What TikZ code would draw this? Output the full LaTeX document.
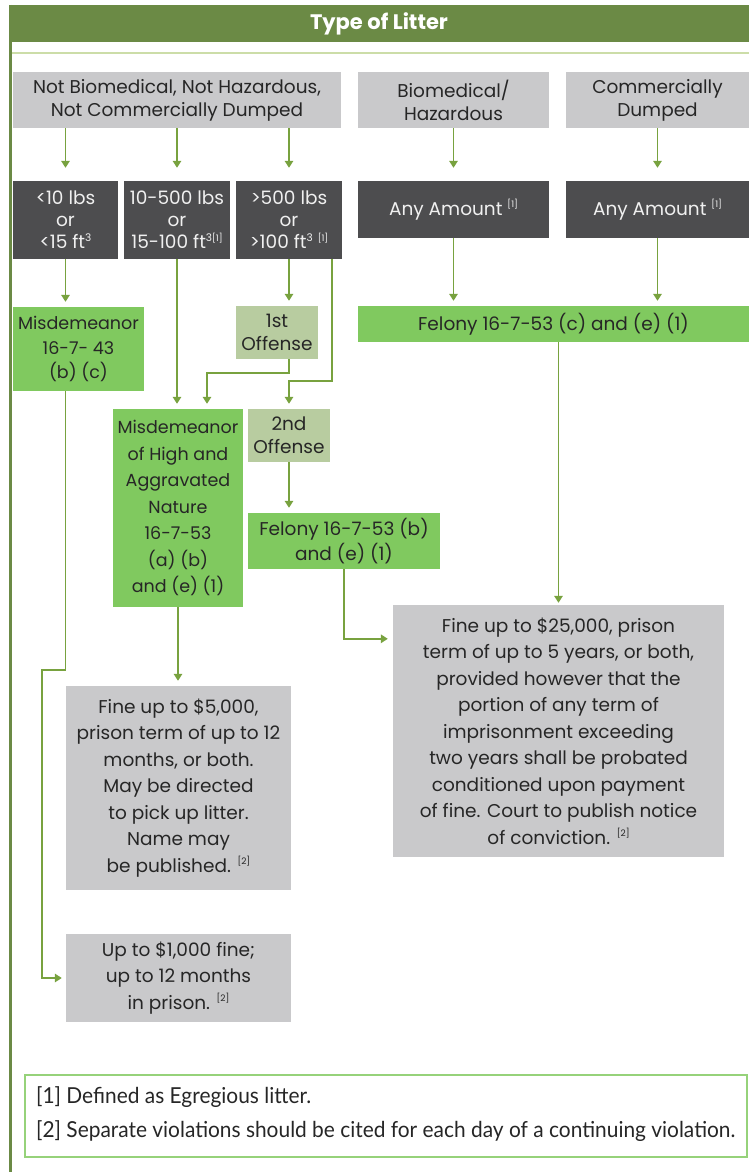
\documentclass[tikz,border=0pt]{standalone}
\usepackage{fontspec}
\setmainfont{Poppins}
\newfontfamily\notefont[FakeStretch=0.95]{Lato}
\usetikzlibrary{positioning}
\usetikzlibrary{arrows.meta}

\definecolor{hdrgreen}{HTML}{6B8A45}
\definecolor{paleline}{HTML}{CCDDA8}
\definecolor{stem}{HTML}{78A23F}
\definecolor{boxgray}{HTML}{C9C9CB}
\definecolor{slate}{HTML}{4D4D4F}
\definecolor{lawn}{HTML}{80C95F}
\definecolor{sage}{HTML}{B8CCA0}
\definecolor{noteline}{HTML}{96D27A}

\tikzset{
  box/.style={inner sep=0pt, align=center, text=black!85, font=\fontsize{18.5}{26.5}\selectfont},
  graybox/.style={box, fill=boxgray},
  darkbox/.style={box, fill=slate, text=white!94!black, font=\fontsize{18.5}{22}\selectfont},
  greenbox/.style={box, fill=lawn},
  offensebox/.style={box, fill=sage, font=\fontsize{18.5}{23}\selectfont},
  arr/.style={draw=stem, line width=1.6pt, -{Triangle[length=7pt, width=8.5pt]}, shorten >=5pt}
}
\newcommand{\fnref}[1]{\raisebox{0.75ex}{\fontsize{9}{9}\selectfont[#1]}}
\newcommand{\cube}{\raisebox{0.7ex}{\fontsize{10.5}{10.5}\selectfont 3}}

\begin{document}
\begin{tikzpicture}[x=1pt, y=-1pt]
\useasboundingbox (0,0) rectangle (749,1172);
%\draw[help lines, step=50] (0,0) grid (749,1172);

\node [fill=hdrgreen, text=white, inner sep=0pt, minimum width=740pt, minimum height=37pt,
  font=\bfseries\fontsize{21}{21}\selectfont] (title) at (379,23.5) {Type of Litter};
\draw [hdrgreen, line width=3pt] ([xshift=1.5pt]title.north west) -- ++(0,1167);
\draw [paleline, line width=2pt] (12,53) -- (749,53);

% kinds of litter
\node [graybox, minimum width=328pt, minimum height=56pt, font=\fontsize{18.5}{23}\selectfont] (kindA) at (177,100)
  {Not Biomedical, Not Hazardous,\\Not Commercially Dumped};
\node [graybox, minimum width=191pt, minimum height=56pt, font=\fontsize{18.5}{23}\selectfont] (kindB) at (453.5,100) {Biomedical/\\Hazardous};
\node [graybox, minimum width=183pt, minimum height=56pt, font=\fontsize{18.5}{23}\selectfont] (kindC) at (657.5,100) {Commercially\\Dumped};

% amounts
\node [darkbox, minimum width=105pt, minimum height=78pt] (amt1) at (65.5,220) {<10 lbs\\or\\<15 ft\cube};
\node [darkbox, minimum width=106pt, minimum height=78pt] (amt2) at (177,220) {10-500 lbs\\or\\15-100 ft\cube\fnref{1}};
\node [darkbox, minimum width=106pt, minimum height=78pt] (amt3) at (289,220) {>500 lbs\\or\\>100 ft\cube\ \fnref{1}};
\node [darkbox, minimum width=191pt, minimum height=57pt] (amt4) at (453.5,209.5) {Any Amount \fnref{1}};
\node [darkbox, minimum width=183pt, minimum height=57pt] (amt5) at (657.5,209.5) {Any Amount \fnref{1}};

% offenses and charges
\node [greenbox, minimum width=131pt, minimum height=84pt, font=\fontsize{17.5}{24.5}\selectfont] (misd) at (78.5,349)
  {Misdemeanor\\16-7- 43\\(b) (c)};
\node [offensebox, minimum width=82pt, minimum height=53pt] (first) at (277,332.5) {1st\\Offense};
\node [greenbox, minimum width=391pt, minimum height=36pt] (felc) at (553.5,324) {Felony 16-7-53 (c) and (e) (1)};
\node [greenbox, minimum width=130pt, minimum height=198pt, font=\fontsize{17.5}{26.5}\selectfont] (high) at (178,508)
  {Misdemeanor\\of High and\\Aggravated\\Nature\\16-7-53\\(a) (b)\\and (e) (1)};
\node [offensebox, minimum width=82pt, minimum height=53pt] (second) at (289,435.5) {2nd\\Offense};
\node [greenbox, minimum width=192pt, minimum height=56pt, font=\fontsize{18.5}{25}\selectfont] (felb) at (344,541)
  {Felony 16-7-53 (b)\\and (e) (1)};

% penalties
\node [graybox, minimum width=331pt, minimum height=252pt] (felfine) at (558.5,731)
  {Fine up to \$25,000, prison\\term of up to 5 years, or both,\\provided however that the\\portion of any term of\\imprisonment exceeding\\two years shall be probated\\conditioned upon payment\\of fine. Court to publish notice\\of conviction. \fnref{2}};
\node [graybox, minimum width=225pt, minimum height=204pt] (highfine) at (178.5,788)
  {Fine up to \$5,000,\\prison term of up to 12\\months, or both.\\May be directed\\to pick up litter.\\Name may\\be published. \fnref{2}};
\node [graybox, minimum width=225pt, minimum height=88pt] (misdfine) at (178.5,978)
  {Up to \$1,000 fine;\\up to 12 months\\in prison. \fnref{2}};

% footnotes
\node [draw=noteline, line width=2pt, inner sep=0pt, minimum width=722pt, minimum height=82pt] (notes) at (386,1116) {};
\node [anchor=west, inner sep=0pt, text=black!85, font=\notefont\fontsize{22}{22}\selectfont] (note1) at (36,1097)
  {[1] Defined as Egregious litter.};
\node [anchor=west, inner sep=0pt, text=black!85, font=\notefont\fontsize{22}{22}\selectfont] (note2) at (36,1131)
  {[2] Separate violations should be cited for each day of a continuing violation.};

% connectors
\draw [arr, shorten >=13pt] (amt1.north |- kindA.south) -- (amt1.north);
\draw [arr, shorten >=13pt] (amt2.north |- kindA.south) -- (amt2.north);
\draw [arr, shorten >=13pt] (amt3.north |- kindA.south) -- (amt3.north);
\draw [arr, shorten >=13pt] (kindB.south) -- (amt4.north);
\draw [arr, shorten >=13pt] (kindC.south) -- (amt5.north);
\draw [arr] (amt1.south) -- (amt1.south |- misd.north);
\draw [arr] (amt3.south) -- (amt3.south |- first.north);
\draw [arr] (amt4.south) -- (amt4.south |- felc.north);
\draw [arr] (amt5.south) -- (amt5.south |- felc.north);
\draw [arr] (amt2.south) -- (amt2.south |- high.north);
\draw [arr] (amt3.south |- first.south) -- ++(0,14) -| ([xshift=29pt]high.north);
\draw [arr] ([xshift=-10pt]amt3.south east) -- ++(0,122) -| (second.north);
\draw [arr] (second.south) -- (felb.north -| second.south);
\draw [arr] (high.south) -- (high.south |- highfine.north);
\draw [arr] (felb.south) |- ([yshift=-34pt]felfine.north west);
\draw [arr, shorten >=2pt] (felfine.north |- felc.south) -- (felfine.north);
\draw [arr, shorten >=4pt] (misd.south -| amt1.south) -- ++(0,279) -| ([xshift=-24pt]misdfine.west) -- (misdfine.west);

\end{tikzpicture}
\end{document}
